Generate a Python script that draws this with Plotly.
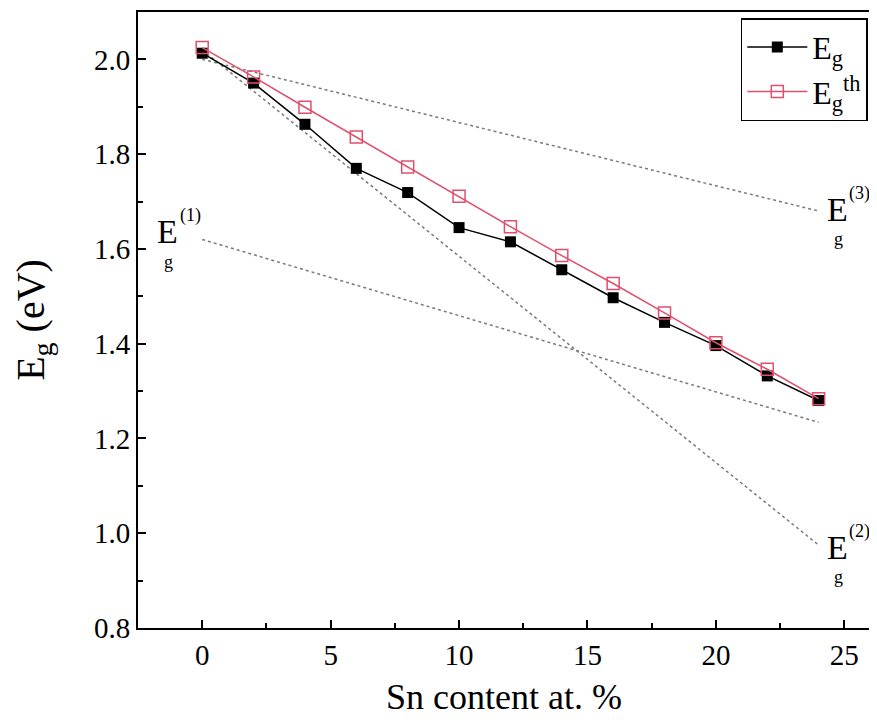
import plotly.graph_objects as go

sn = [0, 2, 4, 6, 8, 10, 12, 14, 16, 18, 20, 22, 24]
eg = [2.013, 1.950, 1.863, 1.770, 1.719, 1.645, 1.615, 1.556, 1.497, 1.445, 1.396, 1.332, 1.280]
eg_th = [2.025, 1.963, 1.899, 1.836, 1.773, 1.711, 1.647, 1.586, 1.527, 1.465, 1.402, 1.346, 1.284]

fit_x = [0, 24]
fit1 = [1.62, 1.234]
fit2 = [2.02, 0.975]
fit3 = [2.0, 1.68]

FONT = "Liberation Serif, Times New Roman, serif"
PINK = "#e0506e"
DOT = "#7a7a7a"

fig = go.Figure()
for fy in (fit1, fit2, fit3):
    fig.add_trace(go.Scatter(x=fit_x, y=fy, mode="lines", showlegend=False,
                             line=dict(color=DOT, width=1.5, dash="dot"), hoverinfo="skip"))

fig.add_trace(go.Scatter(x=sn, y=eg, mode="lines+markers", name="E<sub>g</sub>",
                         line=dict(color="black", width=1.5),
                         marker=dict(symbol="square", size=11, color="black")))
fig.add_trace(go.Scatter(x=sn, y=eg_th, mode="lines+markers", name="E<sub>g</sub><sup>th</sup>",
                         line=dict(color=PINK, width=1.5),
                         marker=dict(symbol="square-open", size=12, color=PINK,
                                     line=dict(width=1.5, color=PINK))))

# stacked labels E_g^(n)
labels = [(-1.35, 1.636, "(1)"), (24.72, 1.684, "(3)"), (24.72, 0.97, "(2)")]
for x0, y0, sup in labels:
    fig.add_annotation(x=x0, y=y0, text="E", showarrow=False, xanchor="center", yanchor="middle",
                       font=dict(family=FONT, size=34, color="black"))
    fig.add_annotation(x=x0, y=y0, text=sup, showarrow=False, xanchor="left", yanchor="middle",
                       xshift=10, yshift=16, font=dict(family=FONT, size=18, color="black"))
    fig.add_annotation(x=x0, y=y0, text="g", showarrow=False, xanchor="center", yanchor="middle",
                       xshift=1, yshift=-30, font=dict(family=FONT, size=18, color="black"))

axis_common = dict(showline=True, linecolor="black", linewidth=2, mirror=True,
                   ticks="inside", ticklen=8, tickwidth=2, tickcolor="black",
                   showgrid=False, zeroline=False,
                   tickfont=dict(family=FONT, size=29, color="black"))

fig.update_xaxes(range=[-2.5, 26], tickvals=[0, 5, 10, 15, 20, 25],
                 minor=dict(dtick=2.5, tick0=0, ticks="inside", ticklen=5, tickwidth=2, tickcolor="black"),
                 title=dict(text="Sn content at. %", font=dict(family=FONT, size=36, color="black"), standoff=14),
                 **axis_common)
fig.update_yaxes(range=[0.8, 2.1], tickvals=[0.8, 1.0, 1.2, 1.4, 1.6, 1.8, 2.0], tickformat=".1f",
                 minor=dict(dtick=0.1, tick0=0.8, ticks="inside", ticklen=5, tickwidth=2, tickcolor="black"),
                 title=dict(text="E<sub>g</sub> (eV)", font=dict(family=FONT, size=40, color="black"), standoff=40),
                 **axis_common)

# page body has an 8px margin: size the figure so it ends exactly at the window edge
fig.update_layout(width=869, height=712, margin=dict(l=130, r=7, t=4, b=92, autoexpand=False),
                  plot_bgcolor="white", paper_bgcolor="white",
                  font=dict(family=FONT, color="black"),
                  legend=dict(x=0.997, y=0.99, xanchor="right", yanchor="top",
                              bgcolor="white", bordercolor="black", borderwidth=1.5,
                              font=dict(family=FONT, size=32, color="black"),
                              tracegroupgap=4, itemwidth=60))

fig.write_html("out.html")
